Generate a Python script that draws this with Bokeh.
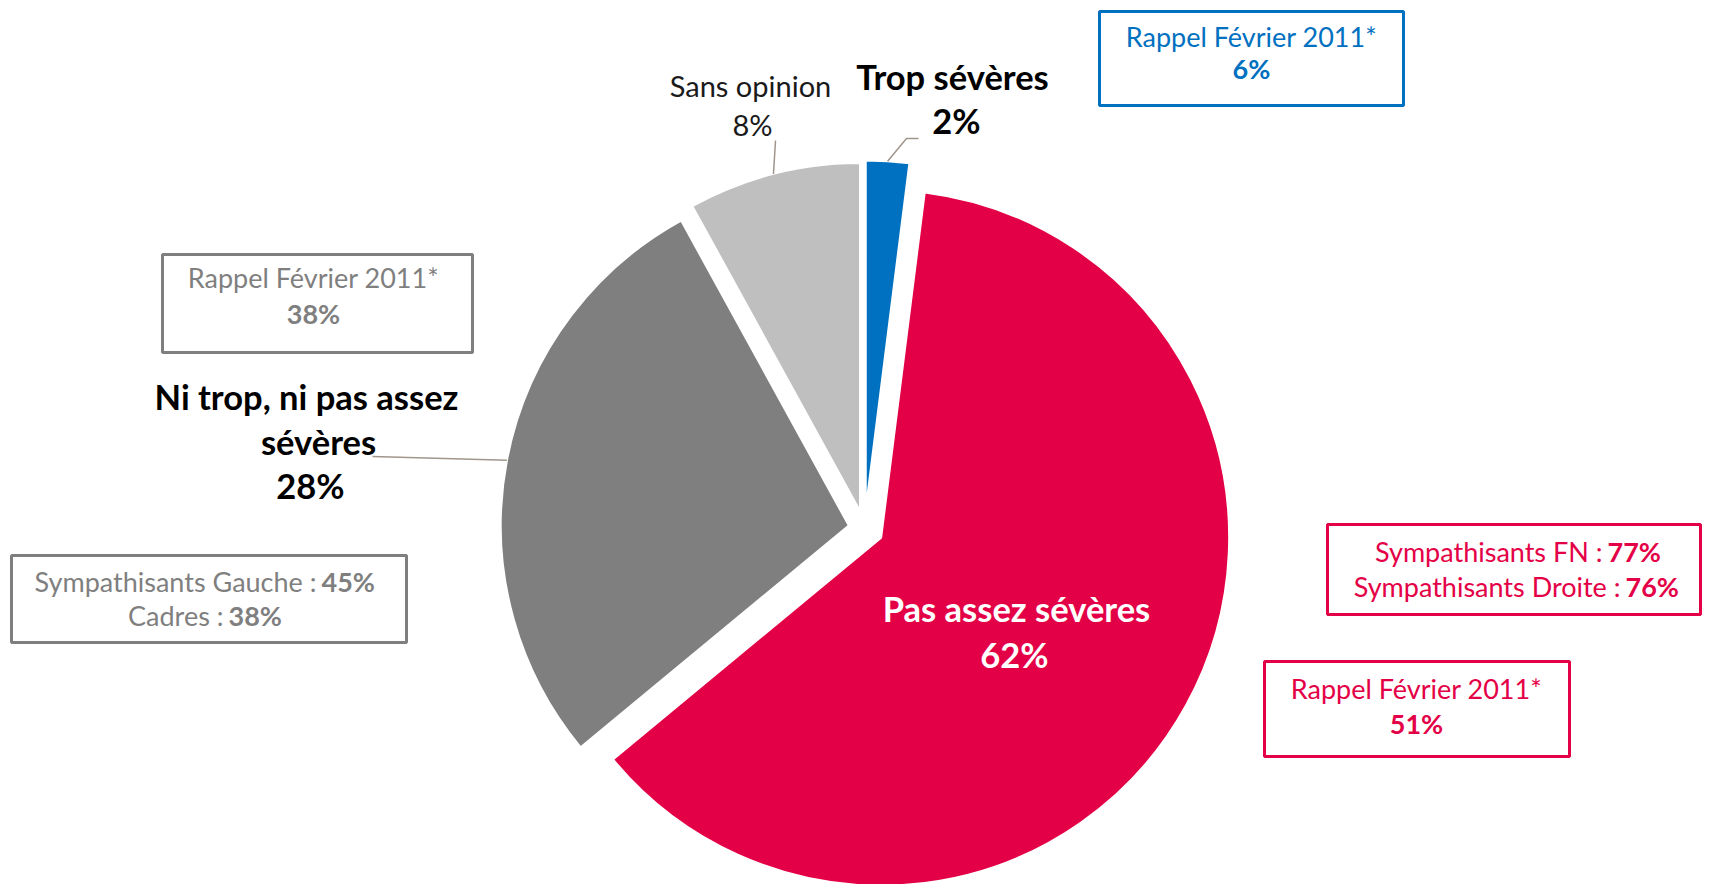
import math
from bokeh.plotting import figure
from bokeh.models import Range1d, ColumnDataSource
from bokeh.core.properties import value
from bokeh.embed import file_html
from bokeh.resources import INLINE

# ---------------- data ----------------
categories = ["Trop sévères", "Pas assez sévères", "Ni trop, ni pas assez sévères", "Sans opinion"]
shares = [2, 62, 28, 8]
rappel_2011 = {"Trop sévères": 6, "Pas assez sévères": 51, "Ni trop, ni pas assez sévères": 38}
red_groups = ["Sympathisants FN", "Sympathisants Droite"]
red_group_values = [77, 76]
gray_groups = ["Sympathisants Gauche", "Cadres"]
gray_group_values = [45, 38]

# ---------------- style ----------------
RED = "#E40046"
BLUE = "#0070C0"
DGRAY = "#7F7F7F"
LGRAY = "#BFBFBF"
slice_colors = [BLUE, RED, DGRAY, LGRAY]
explode = [20, 19, 16, 18]
FONT = "Lato"
LEADER = "#A0968C"

W, H = 1712, 884
p = figure(width=W, height=H, x_range=Range1d(0, W), y_range=Range1d(0, H),
           output_backend="svg", toolbar_location=None, min_border=0)
p.axis.visible = False
p.grid.visible = False
p.outline_line_color = None
p.background_fill_color = "white"


def Y(sy):
    return H - sy


# pie geometry (screen centre 864,528, radius 348)
cx, cy = 864, Y(528)
R = 348
xs, ys, starts, ends, mids = [], [], [], [], []
cum = 0.0
for v, e in zip(shares, explode):
    f0 = cum / 100.0
    f1 = (cum + v) / 100.0
    cum += v
    s = math.pi / 2 - 2 * math.pi * f1
    en = math.pi / 2 - 2 * math.pi * f0
    m = (s + en) / 2
    xs.append(cx + e * math.cos(m))
    ys.append(cy + e * math.sin(m))
    starts.append(s)
    ends.append(en)
    mids.append(m)

src = ColumnDataSource(dict(x=xs, y=ys, start=starts, end=ends, color=slice_colors, cat=categories))
p.wedge(x="x", y="y", radius=R, start_angle="start", end_angle="end", fill_color="color",
        line_color="white", line_width=2, source=src)


def arc_point(i):
    return xs[i] + R * math.cos(mids[i]), ys[i] + R * math.sin(mids[i])


# leader lines
ax, ay = arc_point(0)
p.line([ax, 906, 918], [ay, Y(138), Y(138)], line_color=LEADER, line_width=1.5)
ax, ay = arc_point(3)
p.line([ax, 775], [ay, Y(140)], line_color=LEADER, line_width=1.5)
ax, ay = arc_point(2)
p.line([ax, 372], [ay, Y(456)], line_color=LEADER, line_width=1.5)


def label(x, sy, txt, size, color, bold=False, align="center"):
    p.text(x=[x], y=[Y(sy)], text=[txt], text_font=value(FONT), text_font_size=f"{size}px",
           text_font_style="bold" if bold else "normal", text_color=color,
           text_align=align, text_baseline="middle")


def box(l, r, t, b, color):
    p.quad(left=[l], right=[r], top=[Y(t)], bottom=[Y(b)], fill_alpha=0,
           line_color=color, line_width=3)


BIG = 34.5
REG = 27

# slice labels
label(952, 76, categories[0], BIG, "black", bold=True)
label(956, 120, f"{shares[0]}%", BIG, "black", bold=True)
label(1016, 608, categories[1], BIG, "white", bold=True)
label(1014, 654, f"{shares[1]}%", BIG, "white", bold=True)
label(306, 396, "Ni trop, ni pas assez", BIG, "black", bold=True)
label(318, 441, "sévères", BIG, "black", bold=True)
label(310, 485, f"{shares[2]}%", BIG, "black", bold=True)
label(750, 85, categories[3], 29, "#1a1a1a")
label(752, 124, f"{shares[3]}%", 29, "#1a1a1a")

# Rappel boxes
box(1099, 1403, 11, 105, BLUE)
label(1251, 36, "Rappel Février 2011*", REG, BLUE)
label(1251, 68, f"{rappel_2011['Trop sévères']}%", REG, BLUE, bold=True)

box(162, 472, 254, 352, DGRAY)
label(313, 277, "Rappel Février 2011*", REG, DGRAY)
label(313, 313, f"{rappel_2011['Ni trop, ni pas assez sévères']}%", REG, DGRAY, bold=True)

box(1264, 1569, 661, 756, RED)
label(1416, 688, "Rappel Février 2011*", REG, RED)
label(1416, 723, f"{rappel_2011['Pas assez sévères']}%", REG, RED, bold=True)

# subgroup boxes
box(1327, 1700, 524, 614, RED)
splits_r = [1607, 1625]
for i, (g, v) in enumerate(zip(red_groups, red_group_values)):
    sy = 551 + 35 * i
    label(splits_r[i] - 5, sy, f"{g} :", REG, RED, align="right")
    label(splits_r[i], sy, f"{v}%", REG, RED, bold=True, align="left")

box(11, 406, 555, 642, DGRAY)
splits_g = [321, 228]
for i, (g, v) in enumerate(zip(gray_groups, gray_group_values)):
    sy = 581 + 34 * i
    label(splits_g[i] - 5, sy, f"{g} :", REG, DGRAY, align="right")
    label(splits_g[i], sy, f"{v}%", REG, DGRAY, bold=True, align="left")

open("out.html", "w").write(file_html(p, INLINE))
